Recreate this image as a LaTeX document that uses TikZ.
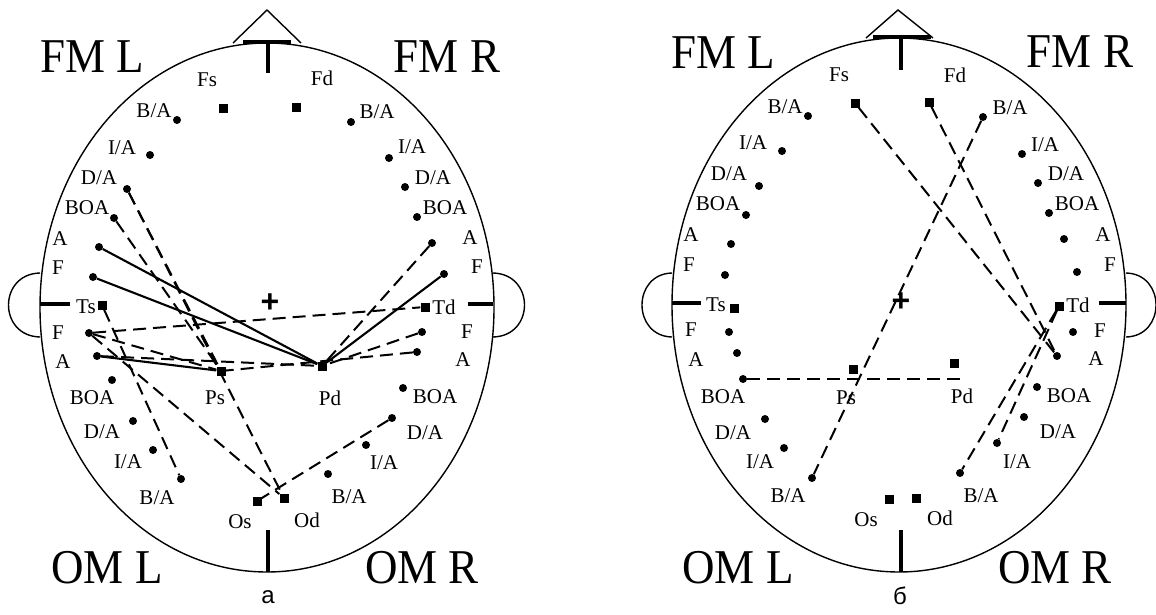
\documentclass[tikz,border=0pt]{standalone}
\usepackage{fontspec}
\setmainfont{Liberation Serif}
\newfontfamily\capfont{Liberation Sans}
\begin{document}
\begin{tikzpicture}[x=1pt,y=-1pt,
  dot/.style={circle,fill=black,inner sep=0pt,minimum size=8pt},
  sq/.style={rectangle,fill=black,inner sep=0pt,minimum size=9pt},
  lbl/.style={inner sep=0pt,font=\fontsize{21}{21}\selectfont},
  big/.style={inner sep=0pt,font=\fontsize{45}{45}\selectfont},
  captxt/.style={inner sep=0pt,font=\capfont\fontsize{24}{24}\selectfont},
  plussign/.style={inner sep=0pt,font=\capfont\bfseries\fontsize{32}{32}\selectfont},
  outline/.style={line width=1.4pt},
  heavy/.style={line width=3.4pt},
  sol/.style={line width=2.1pt},
  dsh/.style={line width=2pt,dash pattern=on 13pt off 7pt}]
\useasboundingbox (0,0) rectangle (1156,614);

% ================= HEAD a =================
\draw[outline] (267,307.5) ellipse [x radius=227pt, y radius=264.5pt];
\draw[outline] (233,43) -- (267,10) -- (301,43);
\draw[heavy] (243,42) -- (291,42);
\draw[heavy] (268,42) -- (268,73);
\draw[heavy] (268,530) -- (268,572);
\draw[outline] (40,273) .. controls (-2,274) and (-2,336) .. (40,337);
\draw[outline] (493,273) .. controls (535,274) and (535,336) .. (493,337);
\draw[heavy] (40,304) -- (70,304);
\draw[heavy] (468,304) -- (493,304);

\node[big] (aFML) at (92,57) {\scalebox{1}[1.08]{FM L}};
\node[big] (aFMR) at (447,57) {\scalebox{1}[1.08]{FM R}};
\node[big] (aOML) at (107,568) {\scalebox{1}[1.08]{OM L}};
\node[big] (aOMR) at (422,568) {\scalebox{1}[1.08]{OM R}};
\node[plussign] (aplus) at (270,303) {+};
\node[captxt] (acap) at (268,597) {а};

\node[sq] (aFs) at (223,108) {}; \node[lbl] at (207,80) {Fs};
\node[sq] (aFd) at (296,107) {}; \node[lbl] at (322,78) {Fd};
\node[dot] (aLBA1) at (177,120) {}; \node[lbl] at (154,111) {B/A};
\node[dot] (aLIA1) at (150,155) {}; \node[lbl] at (122,148) {I/A};
\node[dot] (aLDA1) at (127,189) {}; \node[lbl] at (99,178) {D/A};
\node[dot] (aLBOA1) at (114,218) {}; \node[lbl] at (87,208) {BOA};
\node[dot] (aLA1) at (99,247) {}; \node[lbl] at (60,239) {A};
\node[dot] (aLF1) at (93,277) {}; \node[lbl] at (58,268) {F};
\node[dot] (aRBA1) at (351,122) {}; \node[lbl] at (377,112) {B/A};
\node[dot] (aRIA1) at (389,158) {}; \node[lbl] at (412,147) {I/A};
\node[dot] (aRDA1) at (405,187) {}; \node[lbl] at (433,178) {D/A};
\node[dot] (aRBOA1) at (417,217) {}; \node[lbl] at (445,208) {BOA};
\node[dot] (aRA1) at (432,243) {}; \node[lbl] at (470,238) {A};
\node[dot] (aRF1) at (444,274) {}; \node[lbl] at (477,267) {F};
\node[sq] (aTs) at (102,305) {}; \node[lbl] at (86,307) {Ts};
\node[sq] (aTd) at (425,307) {}; \node[lbl] at (444,307) {Td};
\node[dot] (aLF2) at (89,333) {}; \node[lbl] at (58,333) {F};
\node[dot] (aLA2) at (97,356) {}; \node[lbl] at (63,362) {A};
\node[dot] (aLBOA2) at (112,380) {}; \node[lbl] at (92,398) {BOA};
\node[dot] (aLDA2) at (133,421) {}; \node[lbl] at (102,432) {D/A};
\node[dot] (aLIA2) at (153,450) {}; \node[lbl] at (128,462) {I/A};
\node[dot] (aLBA2) at (181,479) {}; \node[lbl] at (157,498) {B/A};
\node[dot] (aRF2) at (422,332) {}; \node[lbl] at (467,332) {F};
\node[dot] (aRA2) at (417,352) {}; \node[lbl] at (463,360) {A};
\node[dot] (aRBOA2) at (403,388) {}; \node[lbl] at (435,397) {BOA};
\node[dot] (aRDA2) at (392,418) {}; \node[lbl] at (425,433) {D/A};
\node[dot] (aRIA2) at (366,445) {}; \node[lbl] at (384,463) {I/A};
\node[dot] (aRBA2) at (328,474) {}; \node[lbl] at (349,497) {B/A};
\node[sq] (aPs) at (221,371) {}; \node[lbl] at (215,398) {Ps};
\node[sq] (aPd) at (322,366) {}; \node[lbl] at (330,398) {Pd};
\node[sq] (aOs) at (257,501) {}; \node[lbl] at (240,522) {Os};
\node[sq] (aOd) at (284,498) {}; \node[lbl] at (307,520) {Od};

\draw[sol] (aLA1) -- (aPd);
\draw[sol] (aLF1) -- (aPd);
\draw[sol] (aRF1) -- (aPd);
\draw[sol] (aLA2) -- (aPs);
\draw[dsh] (aRA1) -- (aPd);
\draw[dsh] (aLF2) -- (aTd);
\draw[dsh] (aRF2) -- (aPd);
\draw[dsh] (aRA2) -- (aPs);
\draw[dsh] (aLA2) -- (aPd);
\draw[dsh] (aLF2) -- (aPs);
\draw[dsh] (aLF2) -- (aOd);
\draw[dsh] (aLDA1) -- (aPs);
\draw[dsh] (aLDA1) -- (aOd);
\draw[dsh] (aLBOA1) -- (aPs);
\draw[dsh] (aTs) -- (aLBA2);
\draw[dsh] (aRDA2) -- (aOs);

% ================= HEAD b =================
\draw[outline] (899,305) ellipse [x radius=227pt, y radius=267pt];
\draw[outline] (866,38) -- (898,10) -- (933,38);
\draw[heavy] (873,37) -- (931,37);
\draw[heavy] (901,37) -- (901,70);
\draw[heavy] (901,530) -- (901,572);
\draw[outline] (672,273) .. controls (632,274) and (632,336) .. (672,337);
\draw[outline] (1126,273) .. controls (1166,274) and (1166,336) .. (1126,337);
\draw[heavy] (672,303) -- (701,303);
\draw[heavy] (1099,303) -- (1126,303);

\node[big] (bFML) at (723,53) {\scalebox{1}[1.08]{FM L}};
\node[big] (bFMR) at (1080,52) {\scalebox{1}[1.08]{FM R}};
\node[big] (bOML) at (738,568) {\scalebox{1}[1.08]{OM L}};
\node[big] (bOMR) at (1055,568) {\scalebox{1}[1.08]{OM R}};
\node[plussign] (bplus) at (901,302) {+};
\node[captxt] (bcap) at (900,596) {б};

\node[sq] (bFs) at (855,103) {}; \node[lbl] at (839,75) {Fs};
\node[sq] (bFd) at (929,102) {}; \node[lbl] at (955,75) {Fd};
\node[dot] (bLBA1) at (808,116) {}; \node[lbl] at (785,107) {B/A};
\node[dot] (bLIA1) at (782,151) {}; \node[lbl] at (753,143) {I/A};
\node[dot] (bLDA1) at (759,186) {}; \node[lbl] at (729,174) {D/A};
\node[dot] (bLBOA1) at (746,215) {}; \node[lbl] at (718,204) {BOA};
\node[dot] (bLA1) at (731,244) {}; \node[lbl] at (691,235) {A};
\node[dot] (bLF1) at (725,275) {}; \node[lbl] at (689,265) {F};
\node[dot] (bRBA1) at (983,117) {}; \node[lbl] at (1010,108) {B/A};
\node[dot] (bRIA1) at (1022,154) {}; \node[lbl] at (1045,145) {I/A};
\node[dot] (bRDA1) at (1038,183) {}; \node[lbl] at (1066,174) {D/A};
\node[dot] (bRBOA1) at (1049,213) {}; \node[lbl] at (1077,204) {BOA};
\node[dot] (bRA1) at (1064,239) {}; \node[lbl] at (1103,235) {A};
\node[dot] (bRF1) at (1077,272) {}; \node[lbl] at (1110,265) {F};
\node[sq] (bTs) at (734,308) {}; \node[lbl] at (716,305) {Ts};
\node[sq] (bTd) at (1059,306) {}; \node[lbl] at (1078,305) {Td};
\node[dot] (bLF2) at (729,332) {}; \node[lbl] at (691,330) {F};
\node[dot] (bLA2) at (737,353) {}; \node[lbl] at (696,360) {A};
\node[dot] (bLBOA2) at (743,379) {}; \node[lbl] at (723,397) {BOA};
\node[dot] (bLDA2) at (765,419) {}; \node[lbl] at (733,433) {D/A};
\node[dot] (bLIA2) at (784,448) {}; \node[lbl] at (760,462) {I/A};
\node[dot] (bLBA2) at (812,478) {}; \node[lbl] at (788,496) {B/A};
\node[dot] (bRF2) at (1073,332) {}; \node[lbl] at (1100,331) {F};
\node[dot] (bRA2) at (1057,356) {}; \node[lbl] at (1096,359) {A};
\node[dot] (bRBOA2) at (1037,387) {}; \node[lbl] at (1069,396) {BOA};
\node[dot] (bRDA2) at (1024,417) {}; \node[lbl] at (1058,432) {D/A};
\node[dot] (bRIA2) at (997,443) {}; \node[lbl] at (1017,462) {I/A};
\node[dot] (bRBA2) at (960,473) {}; \node[lbl] at (981,496) {B/A};
\node[sq] (bPs) at (853,369) {}; \node[lbl] at (846,398) {Ps};
\node[sq] (bPd) at (954,363) {}; \node[lbl] at (962,396) {Pd};
\node[sq] (bOs) at (889,499) {}; \node[lbl] at (866,520) {Os};
\node[sq] (bOd) at (916,498) {}; \node[lbl] at (940,518) {Od};
\coordinate (bEnd) at (967,379);

\draw[dsh] (bFs) -- (bRA2);
\draw[dsh] (bFd) -- (bRA2);
\draw[dsh] (bRBA1) -- (bLBA2);
\draw[dsh] (bLBOA2) -- (bEnd);
\draw[dsh] (bTd) -- (bRIA2);
\draw[dsh] (bTd) -- (bRBA2);
\end{tikzpicture}
\end{document}
